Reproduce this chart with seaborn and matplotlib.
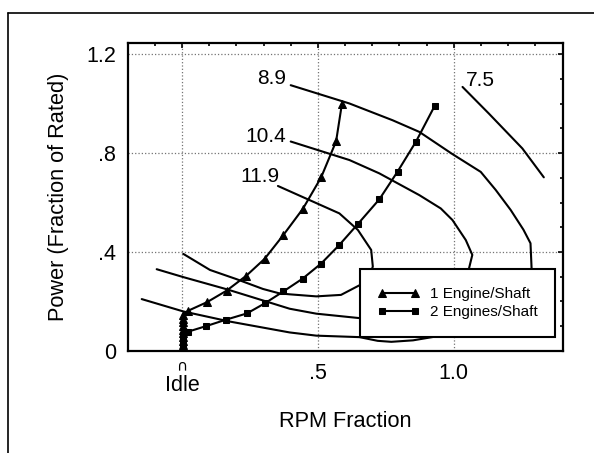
import matplotlib
matplotlib.use("Agg")
import matplotlib.pyplot as plt
from matplotlib.lines import Line2D
from matplotlib.ticker import MultipleLocator, FixedLocator
import seaborn as sns

# ======================
# 1. 数据
# ======================
# 等值线 8.9 (外圈, 下半段藏在图例后面)
sfc_89_x = [0.400, 0.616, 0.775, 0.873, 0.995, 1.099, 1.154, 1.209, 1.256, 1.282, 1.286,
            1.27, 1.15, 1.00, 0.92, 0.85, 0.77, 0.72, 0.653, 0.494, 0.396, 0.176, 0.005, -0.148]
sfc_89_y = [1.075, 1.001, 0.933, 0.886, 0.796, 0.724, 0.651, 0.570, 0.490, 0.435, 0.334,
            0.16, 0.09, 0.07, 0.055, 0.042, 0.036, 0.040, 0.055, 0.061, 0.074, 0.118, 0.159, 0.209]

# 等值线 10.4
sfc_104_x = [0.400, 0.616, 0.726, 0.873, 0.952, 0.995, 1.044, 1.068, 1.056,
             1.02, 0.92, 0.78, 0.653, 0.494, 0.396, 0.311, 0.164, 0.005, -0.093]
sfc_104_y = [0.847, 0.772, 0.718, 0.630, 0.576, 0.529, 0.448, 0.388, 0.334,
             0.24, 0.16, 0.13, 0.132, 0.150, 0.170, 0.199, 0.249, 0.298, 0.330]

# 等值线 11.9 (内圈)
sfc_119_x = [0.353, 0.469, 0.579, 0.647, 0.696, 0.702, 0.69, 0.653, 0.585,
             0.494, 0.40, 0.359, 0.298, 0.20, 0.103, 0.005]
sfc_119_y = [0.667, 0.610, 0.556, 0.489, 0.408, 0.341, 0.30, 0.265, 0.226,
             0.220, 0.228, 0.232, 0.250, 0.290, 0.327, 0.392]

# 等值线 7.5 (只有右上角一段)
sfc_75_x = [1.032, 1.129, 1.252, 1.331]
sfc_75_y = [1.068, 0.960, 0.819, 0.702]

contour_labels = ["8.9", "10.4", "11.9", "7.5"]

# 1 Engine/Shaft (三角形), 末尾在 Idle 处堆成一团
one_eng_x = [0.588, 0.567, 0.512, 0.445, 0.372, 0.304, 0.237, 0.164, 0.093, 0.023,
             0.003, 0.003, 0.003, 0.003, 0.003, 0.003, 0.003, 0.003, 0.003, 0.003]
one_eng_y = [0.997, 0.848, 0.702, 0.575, 0.467, 0.372, 0.304, 0.243, 0.197, 0.162,
             0.145, 0.13, 0.115, 0.10, 0.085, 0.07, 0.055, 0.04, 0.025, 0.01]

# 2 Engines/Shaft (方块)
two_eng_x = [0.929, 0.861, 0.793, 0.726, 0.647, 0.577, 0.512, 0.444, 0.373, 0.305,
             0.239, 0.163, 0.090, 0.022, 0.003, 0.003, 0.003, 0.003, 0.003]
two_eng_y = [0.990, 0.847, 0.725, 0.613, 0.513, 0.426, 0.353, 0.292, 0.240, 0.192,
             0.151, 0.126, 0.100, 0.077, 0.065, 0.05, 0.035, 0.02, 0.008]

series_labels = ["1 Engine/Shaft", "2 Engines/Shaft"]

x_ticks = [0, 0.5, 1.0]
x_tick_labels = ["", ".5", "1.0"]
y_ticks = [0, 0.4, 0.8, 1.2]
y_tick_labels = ["0", ".4", ".8", "1.2"]

# ======================
# 2. 样式
# ======================
sns.set_theme(style="white")
plt.rcParams["font.family"] = ["Liberation Sans", "DejaVu Sans"]
plt.rcParams["text.color"] = "black"
plt.rcParams["axes.labelcolor"] = "black"

fig = plt.figure(figsize=(5.94, 4.53), dpi=100)
ax = fig.add_axes([0.2148, 0.2258, 0.7323, 0.6788])

# 外框 (扫描件的边框)
fig.add_artist(Line2D([8 / 594, 1.0], [1 - 13 / 453, 1 - 13 / 453], color="black", lw=1.2))
fig.add_artist(Line2D([8 / 594, 8 / 594], [0.0, 1 - 13 / 453], color="black", lw=1.2))

# ======================
# 3. 画曲线
# ======================
line_kw = dict(color="black", linewidth=1.5, sort=False, estimator=None, legend=False)
for xs, ys in [(sfc_89_x, sfc_89_y), (sfc_104_x, sfc_104_y),
               (sfc_119_x, sfc_119_y), (sfc_75_x, sfc_75_y)]:
    sns.lineplot(x=xs, y=ys, ax=ax, **line_kw)

sns.lineplot(x=one_eng_x, y=one_eng_y, ax=ax, marker="^", markersize=5.5,
             markeredgecolor="black", **line_kw)
h1 = ax.lines[-1]
sns.lineplot(x=two_eng_x, y=two_eng_y, ax=ax, marker="s", markersize=4.5,
             markeredgecolor="black", **line_kw)
h2 = ax.lines[-1]

# 等值线标注
ax.text(0.384, 1.103, contour_labels[0], ha="right", va="center", fontsize=15)
ax.text(0.384, 0.869, contour_labels[1], ha="right", va="center", fontsize=15)
ax.text(0.360, 0.704, contour_labels[2], ha="right", va="center", fontsize=15)
ax.text(1.044, 1.093, contour_labels[3], ha="left", va="center", fontsize=15)

# ======================
# 4. 坐标轴
# ======================
ax.set_xlim(-0.2, 1.4)
ax.set_ylim(0, 1.245)
ax.xaxis.set_major_locator(FixedLocator(x_ticks))
ax.xaxis.set_minor_locator(MultipleLocator(0.1))
ax.yaxis.set_major_locator(FixedLocator(y_ticks))
ax.yaxis.set_minor_locator(MultipleLocator(0.1))
ax.set_xticklabels(x_tick_labels)
ax.set_yticklabels(y_tick_labels)
ax.tick_params(which="both", direction="in", top=True, right=True, colors="black",
               labelsize=15.5, pad=8.5)
ax.tick_params(which="major", length=3.5, width=1.2)
ax.tick_params(which="minor", length=2.5, width=1.2)
ax.grid(True, which="major", linestyle=":", color="0.45", linewidth=0.9)
for sp in ax.spines.values():
    sp.set_color("black")
    sp.set_linewidth(1.6)

# Idle 标签 (比其他刻度标签低一点, 上面有个小弧)
ax.annotate("Idle", xy=(0, 0), xycoords=("data", "axes fraction"),
            xytext=(0, -29), textcoords="offset points",
            ha="center", va="baseline", fontsize=15.5)
ax.annotate("\u2229", xy=(0, 0), xycoords=("data", "axes fraction"),
            xytext=(0, -14.3), textcoords="offset points",
            ha="center", va="baseline", fontsize=11, family="DejaVu Sans")

ax.set_xlabel("RPM Fraction", fontsize=15.7, labelpad=20)
ax.set_ylabel("Power (Fraction of Rated)", fontsize=15.7, labelpad=12)

# ======================
# 5. 图例
# ======================
leg = ax.legend([h1, h2], series_labels, loc="center",
                bbox_to_anchor=(0.534, 0.041, 0.4485, 0.228), mode="expand",
                numpoints=2, fontsize=11, frameon=True, fancybox=False,
                borderpad=1.18, handlelength=2.75, handletextpad=0.65,
                labelspacing=0.25, borderaxespad=0.0)
leg.get_frame().set_edgecolor("black")
leg.get_frame().set_linewidth(1.5)
leg.get_frame().set_facecolor("white")
leg.get_frame().set_alpha(1.0)

fig.savefig("out.png", dpi=100)
